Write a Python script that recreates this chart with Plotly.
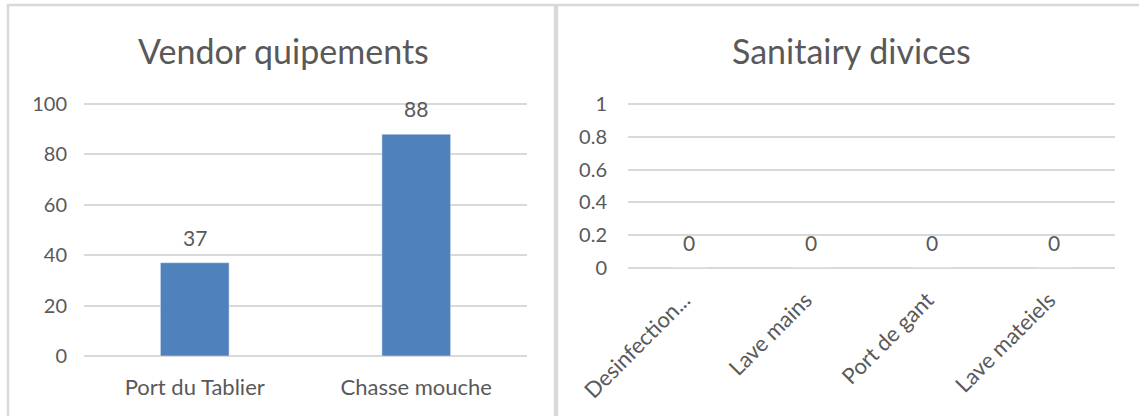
import plotly.graph_objects as go

# Vendor equipment counts
vendor_categories = ["Port du Tablier", "Chasse mouche"]
vendor_values = [37, 88]

# Sanitary device counts
sanitary_categories = ["Desinfection...", "Lave mains", "Port de gant", "Lave mateiels"]
sanitary_values = [0, 0, 0, 0]

vendor_ticks = [0, 20, 40, 60, 80, 100]
sanitary_ticks = [0, 0.2, 0.4, 0.6, 0.8, 1]

W, H = 1139, 416
TEXT = "#595959"
GRID = "#d9d9d9"
BAR = "#4f81bd"
FONT = "Lato, 'Open Sans', sans-serif"


def px_x(x):
    return x / W


def px_y(y):
    return 1 - y / H


# a little headroom above the top gridline so it is not clipped at the range edge
PAD = 3
v_top, v_bot = 104, 356
s_top, s_bot = 104, 268
v_max = vendor_ticks[-1] * (1 + PAD / (v_bot - v_top))
s_max = sanitary_ticks[-1] * (1 + PAD / (s_bot - s_top))

fig = go.Figure()

fig.add_trace(go.Bar(
    x=vendor_categories, y=vendor_values, marker_color=BAR,
    width=0.31, xaxis="x", yaxis="y", showlegend=False, hoverinfo="skip",
))
fig.add_trace(go.Bar(
    x=sanitary_categories, y=sanitary_values, marker_color=BAR,
    width=0.31, xaxis="x2", yaxis="y2", showlegend=False, hoverinfo="skip",
))

annotations = []
# value labels above each bar
for c, v in zip(vendor_categories, vendor_values):
    annotations.append(dict(
        x=c, y=v, xref="x", yref="y", text=str(v), showarrow=False,
        yanchor="bottom", yshift=11, font=dict(size=21, color=TEXT, family=FONT),
    ))
for c, v in zip(sanitary_categories, sanitary_values):
    annotations.append(dict(
        x=c, y=v, xref="x2", yref="y2", text=str(v), showarrow=False,
        yanchor="bottom", yshift=11, font=dict(size=21, color=TEXT, family=FONT),
    ))

# panel titles
annotations.append(dict(
    x=px_x(283), y=px_y(50), xref="paper", yref="paper", text="Vendor quipements",
    showarrow=False, xanchor="center", yanchor="middle",
    font=dict(size=34, color=TEXT, family=FONT),
))
annotations.append(dict(
    x=px_x(851), y=px_y(50), xref="paper", yref="paper", text="Sanitairy divices",
    showarrow=False, xanchor="center", yanchor="middle",
    font=dict(size=34, color=TEXT, family=FONT),
))

# panel frames
shapes = [
    dict(type="rect", xref="paper", yref="paper",
         x0=px_x(8), x1=px_x(555), y0=-0.2, y1=px_y(5),
         line=dict(color=GRID, width=2.5), fillcolor="rgba(0,0,0,0)", layer="below"),
    dict(type="rect", xref="paper", yref="paper",
         x0=px_x(557), x1=px_x(1160), y0=-0.2, y1=px_y(5),
         line=dict(color=GRID, width=2.5), fillcolor="rgba(0,0,0,0)", layer="below"),
]

ytick_font = dict(size=20, color=TEXT, family=FONT)
xtick_font = dict(size=22, color=TEXT, family=FONT)

fig.update_layout(
    width=W, height=H,
    margin=dict(l=0, r=0, t=0, b=0, autoexpand=False),
    paper_bgcolor="white", plot_bgcolor="white",
    annotations=annotations,
    shapes=shapes,
    xaxis=dict(
        domain=[px_x(84), px_x(527)], type="category", automargin=False,
        showgrid=False, showline=False, zeroline=False,
        ticks="outside", ticklen=12, tickcolor="rgba(0,0,0,0)",
        tickfont=xtick_font, fixedrange=True,
    ),
    yaxis=dict(
        domain=[px_y(v_bot), px_y(v_top - PAD)], range=[0, v_max], automargin=False,
        tickvals=vendor_ticks, showgrid=True, gridcolor=GRID, gridwidth=2,
        zeroline=True, zerolinecolor=GRID, zerolinewidth=2, showline=False,
        ticks="outside", ticklen=12, tickcolor="rgba(0,0,0,0)",
        tickfont=ytick_font, fixedrange=True,
    ),
    xaxis2=dict(
        domain=[px_x(628), px_x(1115)], type="category", anchor="y2", automargin=False,
        showgrid=False, showline=False, zeroline=False, tickangle=-45,
        ticks="", ticklabelshift=-5, ticklabelstandoff=14,
        tickfont=xtick_font, fixedrange=True,
    ),
    yaxis2=dict(
        domain=[px_y(s_bot), px_y(s_top - PAD)], range=[0, s_max], anchor="x2",
        automargin=False,
        tickvals=sanitary_ticks, ticktext=[("%g" % t) for t in sanitary_ticks],
        showgrid=True, gridcolor=GRID, gridwidth=2,
        zeroline=True, zerolinecolor=GRID, zerolinewidth=2, showline=False,
        ticks="outside", ticklen=16, tickcolor="rgba(0,0,0,0)",
        tickfont=ytick_font, fixedrange=True,
    ),
)

fig.write_html("out.html", config={"displayModeBar": False})
